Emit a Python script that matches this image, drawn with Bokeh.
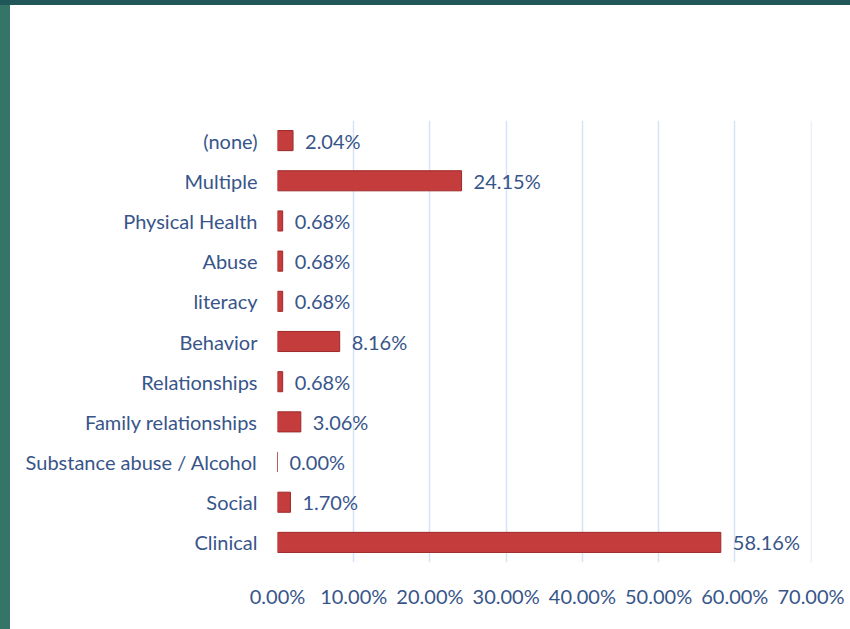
from bokeh.plotting import figure
from bokeh.models import ColumnDataSource, NumeralTickFormatter, FixedTicker, LabelSet, Range1d
from bokeh.core.properties import value
from bokeh.embed import file_html
from bokeh.resources import INLINE

categories = ["Clinical", "Social", "Substance abuse / Alcohol", "Family relationships",
              "Relationships", "Behavior", "literacy", "Abuse", "Physical Health",
              "Multiple", "(none)"]
values = [0.5816, 0.0170, 0.0000, 0.0306, 0.0068, 0.0816, 0.0068, 0.0068, 0.0068, 0.2415, 0.0204]
labels = ["58.16%", "1.70%", "0.00%", "3.06%", "0.68%", "8.16%", "0.68%", "0.68%", "0.68%", "24.15%", "2.04%"]
x_ticks = [0.0, 0.1, 0.2, 0.3, 0.4, 0.5, 0.6, 0.7]

FONT = "Lato"
TXT = "#38558A"

src = ColumnDataSource(dict(cat=categories, val=values, lab=labels))

p = figure(y_range=categories, x_range=Range1d(0, 0.7006), width=840, height=624,
           output_backend="svg", toolbar_location=None,
           min_border_left=267, min_border_right=39, min_border_top=115, min_border_bottom=67)

# slide frame decoration (teal edges of the original slide)
p.styles = {"margin-left": "10px", "margin-top": "5px",
            "box-shadow": "-10px 0 0 0 #357568, 0 -5px 0 0 #22575A, -10px -5px 0 0 #22575A"}

p.hbar(y="cat", right="val", left=0, height=0.5, source=src,
       fill_color="#C43C3C", line_color="#9E2A2A", line_width=1)

p.add_layout(LabelSet(x="val", y="cat", text="lab", source=src, x_offset=12,
                      text_align="left", text_baseline="middle",
                      text_font=value(FONT), text_font_size="20px", text_color=TXT))

p.xaxis.ticker = FixedTicker(ticks=x_ticks)
p.xaxis.formatter = NumeralTickFormatter(format="0.00%")
for ax in (p.xaxis, p.yaxis):
    ax.axis_line_color = None
    ax.major_tick_line_color = None
    ax.minor_tick_line_color = None
    ax.major_tick_out = 0
    ax.major_tick_in = 0
    ax.major_label_text_font = FONT
    ax.major_label_text_font_size = "20px"
    ax.major_label_text_color = TXT
p.xaxis.major_label_standoff = 21
p.yaxis.major_label_standoff = 20

p.xgrid.ticker = FixedTicker(ticks=x_ticks)
p.xgrid.grid_line_color = "#D5E3F4"
p.xgrid.grid_line_width = 1.5
p.ygrid.grid_line_color = None
p.outline_line_color = None
p.background_fill_color = "white"
p.border_fill_color = "white"

open("out.html", "w").write(file_html(p, INLINE))
